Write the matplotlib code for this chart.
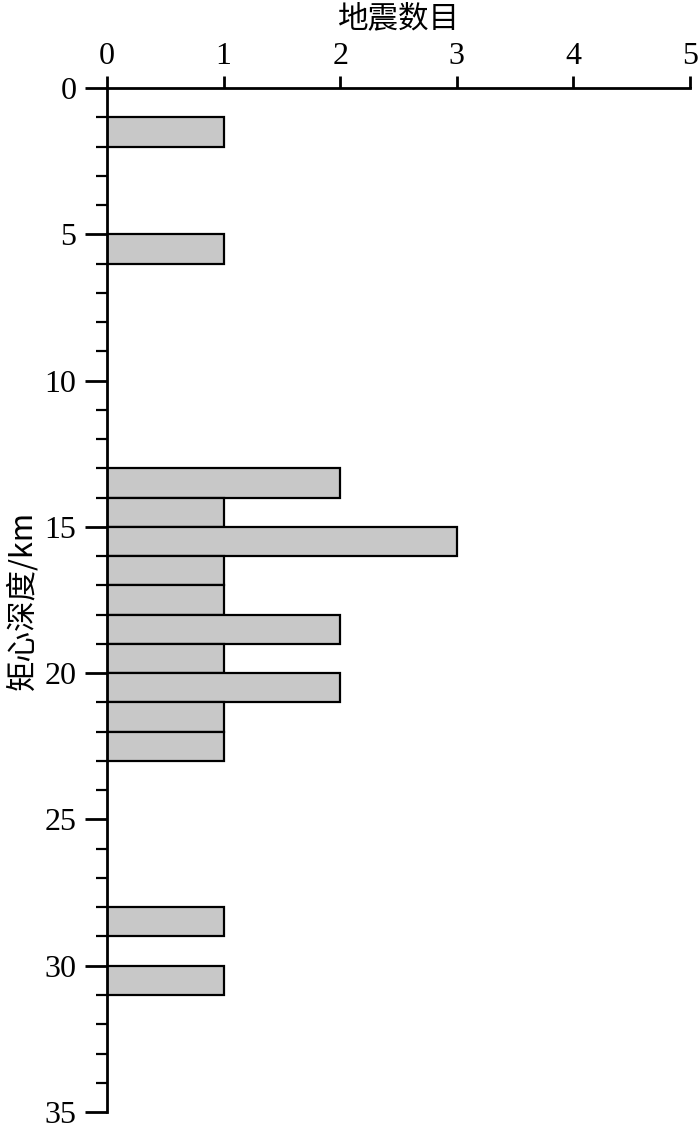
import matplotlib
matplotlib.use("Agg")
import matplotlib.pyplot as plt
from matplotlib.ticker import MultipleLocator

depth_start = [1, 5, 13, 14, 15, 16, 17, 18, 19, 20, 21, 22, 28, 30]
counts = [1, 1, 2, 1, 3, 1, 1, 2, 1, 2, 1, 1, 1, 1]
x_ticks = [0, 1, 2, 3, 4, 5]
y_ticks = [0, 5, 10, 15, 20, 25, 30, 35]

serif = ["Liberation Serif", "DejaVu Serif"]
cjk = ["Noto Sans CJK SC", "DejaVu Sans"]

fig = plt.figure(figsize=(7, 11.33), dpi=100)
ax = fig.add_axes([0.1529, 0.0185, 0.8328, 0.9038])

ax.barh(depth_start, counts, height=1, align="edge", color="#c8c8c8",
        edgecolor="black", linewidth=1.6)

ax.set_xlim(0, 5)
ax.set_ylim(35, 0)
ax.xaxis.tick_top()
ax.xaxis.set_label_position("top")
ax.set_xticks(x_ticks)
ax.set_yticks(y_ticks)
ax.yaxis.set_minor_locator(MultipleLocator(1))

for s in ["right", "bottom"]:
    ax.spines[s].set_visible(False)
for s in ["left", "top"]:
    ax.spines[s].set_linewidth(2)

ax.tick_params(axis="x", which="major", direction="out", length=9, width=2, pad=3)
ax.tick_params(axis="y", which="major", direction="out", length=16, width=2, pad=6)
ax.tick_params(axis="y", which="minor", direction="out", length=8, width=1.6)

for lab in ax.get_xticklabels() + ax.get_yticklabels():
    lab.set_fontfamily(serif)
    lab.set_fontsize(23)

ax.set_xlabel("地震数目", fontfamily=cjk, fontsize=22, va="center")
ax.xaxis.set_label_coords(0.5, 1.068)
ax.set_ylabel("矩心深度/km", fontfamily=cjk, fontsize=22, va="center")
ax.yaxis.set_label_coords(-0.145, 0.5)

fig.savefig("out.png", dpi=100)
